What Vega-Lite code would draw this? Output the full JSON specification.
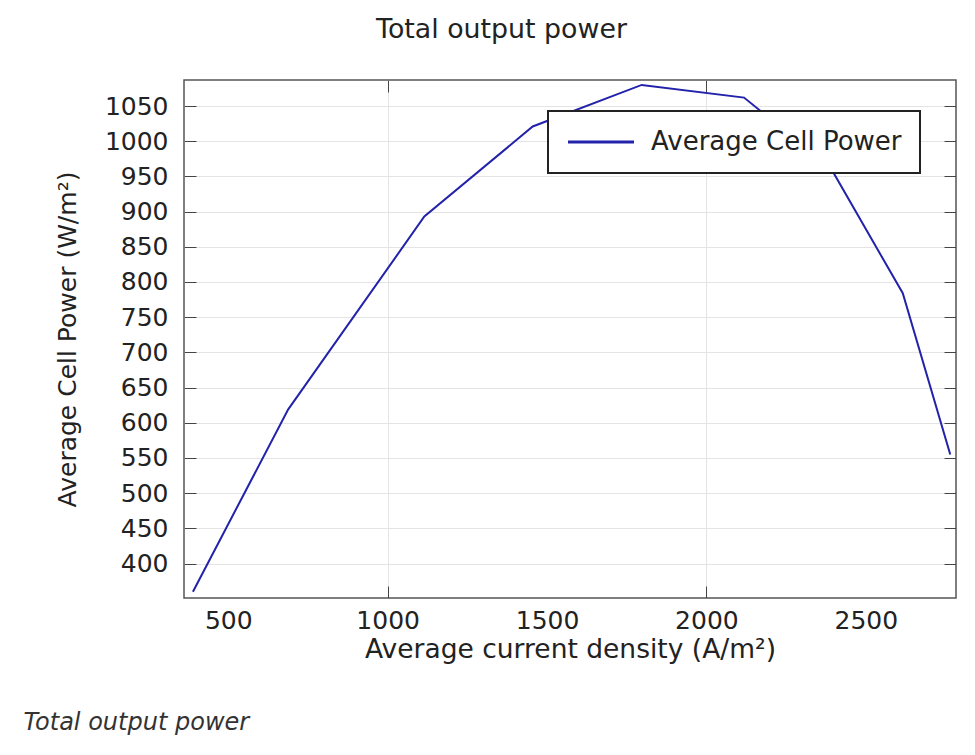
{
  "$schema": "https://vega.github.io/schema/vega-lite/v6.json",
  "width": 772,
  "height": 518,
  "autosize": {"type": "none"},
  "padding": {"left": 184, "top": 80, "right": 19, "bottom": 157},
  "background": "white",
  "title": {
    "text": "Total output power",
    "orient": "bottom",
    "anchor": "start",
    "frame": "bounds",
    "font": "DejaVu Sans",
    "fontStyle": "italic",
    "fontWeight": "normal",
    "fontSize": 24,
    "color": "#333333",
    "offset": 48,
    "dx": -32
  },
  "data": {
    "values": [
      {"current": 389, "power": 360},
      {"current": 688, "power": 619},
      {"current": 1115, "power": 893},
      {"current": 1455, "power": 1021},
      {"current": 1797, "power": 1080},
      {"current": 2118, "power": 1062},
      {"current": 2390, "power": 962},
      {"current": 2616, "power": 784},
      {"current": 2765, "power": 555}
    ]
  },
  "layer": [
    {
      "mark": {"type": "line", "strokeWidth": 2},
      "encoding": {
        "x": {
          "field": "current",
          "type": "quantitative",
          "scale": {"domain": [361, 2783], "nice": false, "zero": false},
          "axis": {
            "orient": "bottom",
            "values": [500, 1000, 1500, 2000, 2500],
            "format": "d",
            "title": "Average current density (A/m²)",
            "titleFont": "DejaVu Sans",
            "titleFontSize": 26.5,
            "titleFontWeight": "normal",
            "titleColor": "#222222",
            "titlePadding": 3,
            "labelFont": "DejaVu Sans",
            "labelFontSize": 25,
            "labelColor": "#222222",
            "labelPadding": 22,
            "labelFlush": false,
            "labelOverlap": false,
            "tickSize": -12,
            "tickColor": "#444444",
            "tickOpacity": {"condition": {"test": "datum.value % 1000 === 0", "value": 1}, "value": 0},
            "grid": true,
            "gridColor": "#e4e4e4",
            "gridOpacity": {"condition": {"test": "datum.value % 1000 === 0", "value": 1}, "value": 0},
            "domain": false
          }
        },
        "y": {
          "field": "power",
          "type": "quantitative",
          "scale": {"domain": [351, 1087], "nice": false, "zero": false},
          "axis": {
            "orient": "left",
            "values": [400, 450, 500, 550, 600, 650, 700, 750, 800, 850, 900, 950, 1000, 1050],
            "format": "d",
            "title": "Average Cell Power (W/m²)",
            "titleFont": "DejaVu Sans",
            "titleFontSize": 25,
            "titleFontWeight": "normal",
            "titleColor": "#222222",
            "titlePadding": 24,
            "labelFont": "DejaVu Sans",
            "labelFontSize": 25,
            "labelColor": "#222222",
            "labelPadding": 28,
            "labelFlush": false,
            "labelOverlap": false,
            "tickSize": -12,
            "tickColor": "#444444",
            "grid": true,
            "gridColor": "#e4e4e4",
            "domain": false
          }
        },
        "color": {
          "datum": "Average Cell Power",
          "type": "nominal",
          "scale": {"range": ["#2222aa"]},
          "legend": {
            "orient": "none",
            "legendX": 364,
            "legendY": 31,
            "title": null,
            "labelFont": "DejaVu Sans",
            "labelFontSize": 26,
            "labelColor": "#222222",
            "labelLimit": 500,
            "symbolType": "M-1,0H5",
            "symbolSize": 484,
            "symbolStrokeWidth": 3,
            "labelOffset": 59,
            "padding": 18,
            "strokeColor": "#222222",
            "fillColor": "white"
          }
        }
      }
    },
    {
      "mark": {"type": "line", "opacity": 0},
      "encoding": {
        "x": {
          "field": "current",
          "type": "quantitative",
          "axis": {
            "orient": "top",
            "values": [1000, 2000],
            "labels": false,
            "tickSize": -12,
            "tickColor": "#444444",
            "grid": false,
            "domain": false,
            "title": "Total output power",
            "titleFont": "DejaVu Sans",
            "titleFontSize": 26.8,
            "titleFontWeight": "normal",
            "titleColor": "#222222",
            "titlePadding": 36,
            "titleX": 317
          }
        },
        "y": {
          "field": "power",
          "type": "quantitative",
          "axis": {
            "orient": "right",
            "values": [400, 450, 500, 550, 600, 650, 700, 750, 800, 850, 900, 950, 1000, 1050],
            "labels": false,
            "tickSize": -12,
            "tickColor": "#444444",
            "grid": false,
            "domain": false,
            "title": null
          }
        }
      }
    }
  ],
  "resolve": {"axis": {"x": "independent", "y": "independent"}},
  "config": {
    "font": "DejaVu Sans",
    "view": {"stroke": "#555555", "strokeWidth": 1.5},
    "legend": {"strokeWidth": 2}
  }
}
